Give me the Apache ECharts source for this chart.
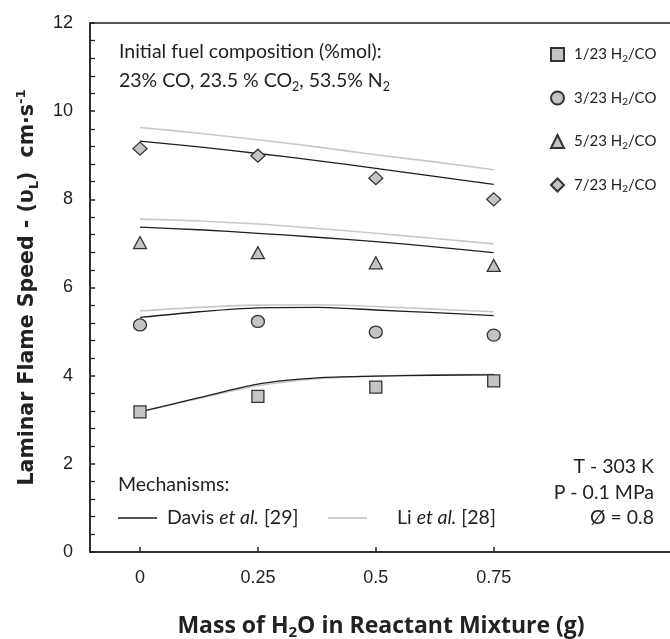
<!DOCTYPE html>
<html>
<head>
<meta charset="utf-8">
<script src="https://cdn.jsdelivr.net/npm/echarts@6/dist/echarts.min.js"></script>
<style>
  html, body { margin: 0; padding: 0; background: #fff; }
  #chart { width: 670px; height: 639px; }
</style>
</head>
<body>
<div id="chart"></div>
<script>
// measured points (symbols)
const waterMass = [0, 0.25, 0.5, 0.75];
const measured_1_23 = [3.18, 3.53, 3.74, 3.88];
const measured_3_23 = [5.15, 5.23, 4.99, 4.92];
const measured_5_23 = [7.02, 6.79, 6.56, 6.50];
const measured_7_23 = [9.15, 8.99, 8.48, 8.00];

// mechanism curves
const modelMass = [0, 0.125, 0.25, 0.375, 0.5, 0.625, 0.75];
const davis_1_23 = [3.18, 3.50, 3.81, 3.95, 3.99, 4.01, 4.02];
const li_1_23 = [3.18, 3.48, 3.77, 3.93, 3.99, 4.02, 4.03];
const davis_3_23 = [5.32, 5.45, 5.54, 5.55, 5.49, 5.43, 5.36];
const li_3_23 = [5.47, 5.55, 5.60, 5.61, 5.57, 5.51, 5.45];
const davis_5_23 = [7.37, 7.31, 7.23, 7.14, 7.04, 6.92, 6.79];
const li_5_23 = [7.55, 7.51, 7.44, 7.34, 7.23, 7.11, 6.99];
const davis_7_23 = [9.32, 9.19, 9.04, 8.88, 8.70, 8.52, 8.34];
const li_7_23 = [9.63, 9.50, 9.35, 9.19, 9.01, 8.85, 8.67];

const xTicks = [0, 0.25, 0.5, 0.75];

const TEXT = "#222";
const SANS = "Lato, 'Open Sans', sans-serif";
const ARIAL = "'Liberation Sans', Arial, sans-serif";
const FILL = "#c4c4c4";
const EDGE = "#333";

function pairs(xs, ys) {
  return xs.map((x, i) => [x, ys[i]]);
}

function curve(name, xs, ys, color, width, z) {
  return {
    name: name,
    type: "line",
    data: pairs(xs, ys),
    smooth: 0.3,
    showSymbol: false,
    silent: true,
    lineStyle: { color: color, width: width },
    z: z
  };
}

function points(name, ys, symbol, size) {
  return {
    name: name,
    type: "scatter",
    data: pairs(waterMass, ys),
    symbol: symbol,
    symbolSize: size,
    itemStyle: { color: FILL, borderColor: EDGE, borderWidth: 1.3, opacity: 1 },
    z: 5
  };
}

// plain annotation text, anchored at (x, y)
function label(x, y, text, align, rich) {
  return {
    type: "text", x: x, y: y,
    style: {
      text: text, font: TXT, fill: TEXT,
      align: align || "left", verticalAlign: "middle",
      rich: rich
    }
  };
}

const chart = echarts.init(document.getElementById("chart"));

const subStyle = (size, lh) => ({ fontSize: size, fontFamily: SANS, color: TEXT, lineHeight: lh, verticalAlign: "bottom" });
const TXT = "19.5px " + SANS;
const italic = { i: { fontStyle: "italic", fontSize: 19.5, fontFamily: SANS, color: TEXT } };
const sub = { s: subStyle(12.5, 17), t: { fontSize: 19.5, fontFamily: SANS, color: TEXT, lineHeight: 25 } };

chart.setOption({
  animation: false,
  backgroundColor: "#fff",
  grid: {
    left: 90, top: 23, width: 582, height: 529,
    outerBoundsMode: "none",
    containLabel: false,
    show: true, borderColor: "#222", borderWidth: 1.5, backgroundColor: "transparent"
  },
  legend: {
    data: ["1/23", "3/23", "5/23", "7/23"],
    orient: "vertical",
    left: 545,
    top: 42,
    itemWidth: 13,
    itemHeight: 13,
    itemGap: 27,
    formatter: (n) => "{a|" + n + " H}{s|2}{a|/CO}",
    textStyle: {
      padding: [0, 0, 0, 5],
      rich: {
        a: { fontSize: 15, fontFamily: SANS, color: TEXT, lineHeight: 18 },
        s: subStyle(10, 11)
      }
    }
  },
  xAxis: {
    type: "value",
    min: -0.106,
    max: 1.128,
    splitLine: { show: false },
    axisLine: { onZero: false, lineStyle: { color: "#222", width: 1.5 } },
    axisTick: { inside: true, length: 5, customValues: xTicks, lineStyle: { color: "#222", width: 1.5 } },
    axisLabel: {
      customValues: xTicks,
      formatter: (v) => String(v),
      margin: 17,
      fontSize: 18,
      fontFamily: ARIAL,
      color: TEXT
    },
    name: "Mass of H{s|2}O in Reactant Mixture (g)",
    nameLocation: "middle",
    nameGap: 60,
    nameTextStyle: {
      fontSize: 23, fontWeight: "bold", fontFamily: "'Open Sans', sans-serif", color: TEXT, lineHeight: 28,
      rich: { s: { fontSize: 15, fontWeight: "bold", fontFamily: "'Open Sans', sans-serif", color: TEXT, lineHeight: 18, verticalAlign: "bottom" } }
    }
  },
  yAxis: {
    type: "value",
    min: 0,
    max: 12,
    interval: 2,
    splitLine: { show: false },
    axisLine: { onZero: false, lineStyle: { color: "#222", width: 1.5 } },
    axisTick: { inside: true, length: 5, lineStyle: { color: "#222", width: 1.5 } },
    minorTick: { show: true, splitNumber: 5, length: 5, lineStyle: { color: "#222", width: 1.3 } },
    axisLabel: {
      margin: 17,
      fontSize: 18,
      fontFamily: ARIAL,
      color: TEXT
    },
    name: "Laminar Flame Speed - (υ{sub|L})  cm·s{sup|-1}",
    nameLocation: "middle",
    nameRotate: 90,
    nameGap: 49,
    nameTextStyle: {
      fontSize: 20.5, fontWeight: "bold", fontFamily: "'DejaVu Sans', sans-serif", color: TEXT, lineHeight: 26,
      rich: {
        sub: { fontSize: 13, fontWeight: "bold", fontFamily: "'DejaVu Sans', sans-serif", color: TEXT, lineHeight: 16, verticalAlign: "bottom" },
        sup: { fontSize: 13, fontWeight: "bold", fontFamily: "'DejaVu Sans', sans-serif", color: TEXT, lineHeight: 14, verticalAlign: "top" }
      }
    }
  },
  graphic: [
    label(119, 52, "Initial fuel composition (%mol):"),
    label(119, 81, "{t|23% CO, 23.5 % CO}{s|2}{t|, 53.5% N}{s|2}", "left", sub),
    label(118, 485, "Mechanisms:"),
    { type: "line", shape: { x1: 118, y1: 518, x2: 157, y2: 518 }, style: { stroke: "#1e1e1e", lineWidth: 1.3 } },
    label(167, 518, "Davis {i|et al.} [29]", "left", italic),
    { type: "line", shape: { x1: 328, y1: 518, x2: 367, y2: 518 }, style: { stroke: "#cccccc", lineWidth: 2 } },
    label(397, 518, "Li {i|et al.} [28]", "left", italic),
    label(654, 467, "T - 303 K", "right"),
    label(654, 493, "P - 0.1 MPa", "right"),
    label(654, 518, "Ø = 0.8", "right")
  ],
  series: [
    curve("li1", modelMass, li_1_23, "#c8c8c8", 1.6, 2),
    curve("li3", modelMass, li_3_23, "#c8c8c8", 1.6, 2),
    curve("li5", modelMass, li_5_23, "#c8c8c8", 1.6, 2),
    curve("li7", modelMass, li_7_23, "#c8c8c8", 1.6, 2),
    curve("davis1", modelMass, davis_1_23, "#1e1e1e", 1.3, 3),
    curve("davis3", modelMass, davis_3_23, "#1e1e1e", 1.3, 3),
    curve("davis5", modelMass, davis_5_23, "#1e1e1e", 1.3, 3),
    curve("davis7", modelMass, davis_7_23, "#1e1e1e", 1.3, 3),
    points("1/23", measured_1_23, "rect", 12),
    points("3/23", measured_3_23, "circle", [13, 12]),
    points("5/23", measured_5_23, "triangle", [13, 12]),
    points("7/23", measured_7_23, "diamond", [14, 13])
  ]
});
</script>
</body>
</html>
